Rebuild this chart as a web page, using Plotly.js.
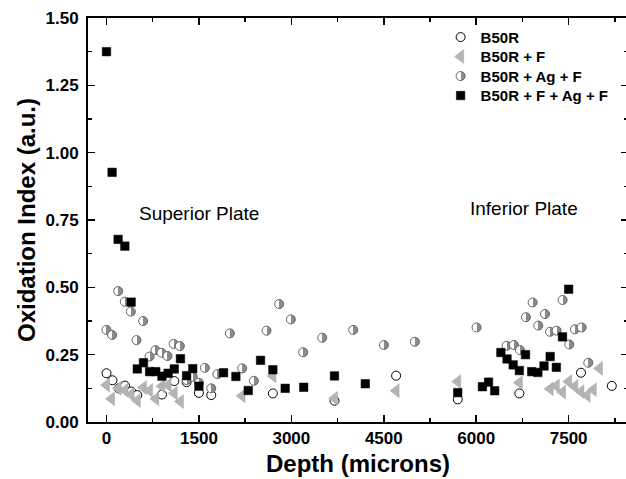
<!DOCTYPE html>
<html>
<head>
<meta charset="utf-8">
<script src="https://cdn.plot.ly/plotly-3.0.1.min.js"></script>
<style>
html,body{margin:0;padding:0;overflow:hidden;background:#fff;}
#chart{width:628px;height:479px;}
</style>
</head>
<body>
<div id="chart"></div>
<script>
// B50R (open circles)
const b50rX = [0, 97, 200, 300, 400, 500, 900, 1100, 1300, 1500, 1700, 2700, 3700, 4700, 5700, 6700, 7700, 8200];
const b50rY = [0.181, 0.155, 0.125, 0.135, 0.113, 0.100, 0.102, 0.152, 0.148, 0.108, 0.100, 0.106, 0.079, 0.172, 0.084, 0.106, 0.183, 0.134];

// B50R + F (grey left triangles)
const b50rFX = [0, 81, 190, 300, 400, 500, 600, 700, 800, 900, 1000, 1100, 1200, 2200, 2700, 3700, 4700, 5700, 6700, 7200, 7300, 7400, 7500, 7600, 7700, 7800, 7900, 8000];
const b50rFY = [0.137, 0.086, 0.125, 0.118, 0.102, 0.080, 0.128, 0.117, 0.086, 0.133, 0.137, 0.107, 0.076, 0.097, 0.171, 0.088, 0.116, 0.150, 0.146, 0.123, 0.134, 0.111, 0.150, 0.132, 0.113, 0.099, 0.120, 0.199];

// B50R + Ag + F (half filled circles)
const b50rAgFX = [0, 92, 190, 297, 395, 487, 595, 700, 795, 893, 990, 1090, 1190, 1300, 1400, 1500, 1596, 1700, 1800, 2002, 2202, 2392, 2597, 2803, 2992, 3192, 3501, 4004, 4502, 5005, 6006, 6493, 6612, 6710, 6807, 6915, 7007, 7116, 7197, 7305, 7402, 7510, 7602, 7711, 7819];
const b50rAgFY = [0.342, 0.323, 0.486, 0.447, 0.410, 0.304, 0.375, 0.243, 0.267, 0.257, 0.245, 0.290, 0.282, 0.156, 0.168, 0.146, 0.201, 0.125, 0.178, 0.329, 0.199, 0.153, 0.339, 0.438, 0.381, 0.259, 0.313, 0.342, 0.286, 0.298, 0.351, 0.283, 0.286, 0.267, 0.389, 0.444, 0.358, 0.401, 0.335, 0.339, 0.453, 0.288, 0.344, 0.351, 0.220];

// B50R + F + Ag + F (black squares)
const b50rFAgFX = [0, 91, 189, 298, 400, 500, 600, 700, 800, 900, 1000, 1100, 1200, 1300, 1400, 1500, 1900, 2100, 2300, 2500, 2700, 2900, 3200, 3700, 4200, 5700, 6100, 6200, 6300, 6400, 6500, 6600, 6700, 6800, 6900, 7000, 7100, 7200, 7300, 7400, 7500];
const b50rFAgFY = [1.375, 0.927, 0.678, 0.653, 0.445, 0.197, 0.220, 0.187, 0.187, 0.170, 0.181, 0.197, 0.235, 0.172, 0.198, 0.133, 0.183, 0.169, 0.117, 0.229, 0.194, 0.125, 0.129, 0.171, 0.142, 0.109, 0.131, 0.148, 0.116, 0.258, 0.234, 0.212, 0.191, 0.250, 0.187, 0.184, 0.208, 0.243, 0.203, 0.316, 0.493];

const seriesNames = ['B50R', 'B50R + F', 'B50R + Ag + F', 'B50R + F + Ag + F'];
const xTicks = [0, 1500, 3000, 4500, 6000, 7500];
const yTicks = [0.00, 0.25, 0.50, 0.75, 1.00, 1.25, 1.50];

const FONT = 'Liberation Sans, Arial, Helvetica, sans-serif';

const data = [
  {x: b50rX, y: b50rY, name: seriesNames[0], type: 'scatter', mode: 'markers',
   marker: {symbol: 'circle', size: 9, color: '#ffffff', line: {color: '#000000', width: 1}}},
  {x: b50rFX, y: b50rFY, name: seriesNames[1], type: 'scatter', mode: 'markers',
   marker: {symbol: 'triangle-left', size: 12, color: '#b4b4b4', line: {color: '#a8a8a8', width: 0.5}}},
  {x: b50rAgFX, y: b50rAgFY, name: seriesNames[2], type: 'scatter', mode: 'markers',
   marker: {symbol: 'circle', size: 9, color: '#ffffff', gradient: {type: 'horizontal', color: '#8a8a8a'}, line: {color: '#666666', width: 1}}},
  {x: b50rFAgFX, y: b50rFAgFY, name: seriesNames[3], type: 'scatter', mode: 'markers',
   marker: {symbol: 'square', size: 8.5, color: '#000000', line: {color: '#000000', width: 0.5}}}
];

const axisCommon = {
  showline: true, linecolor: '#000', linewidth: 2, mirror: 'ticks',
  ticks: 'inside', ticklen: 7, tickwidth: 1.5, tickcolor: '#000',
  showgrid: false, zeroline: false,
  tickfont: {family: FONT, size: 17, color: '#000', weight: 'bold'}
};

const layout = {
  width: 628, height: 479,
  margin: {l: 88, r: 0, t: 18, b: 57},
  paper_bgcolor: '#fff', plot_bgcolor: '#fff',
  showlegend: true,
  legend: {x: 0.653, y: 0.993, xanchor: 'left', yanchor: 'top', bgcolor: 'rgba(0,0,0,0)',
           font: {family: FONT, size: 15, color: '#000', weight: 'bold'}, tracegroupgap: 0},
  xaxis: Object.assign({}, axisCommon, {
    range: [-300, 8463], tickvals: xTicks, ticktext: xTicks.map(String),
    minor: {dtick: 750, tick0: 0, ticks: 'inside', ticklen: 4, tickwidth: 1.5, tickcolor: '#000'},
    title: {text: 'Depth (microns)', font: {family: FONT, size: 24, color: '#000', weight: 'bold'}, standoff: 8}
  }),
  yaxis: Object.assign({}, axisCommon, {
    range: [0, 1.5], tickvals: yTicks, ticktext: yTicks.map(v => v.toFixed(2)),
    ticklabelstandoff: 4,
    minor: {dtick: 0.125, tick0: 0, ticks: 'inside', ticklen: 4, tickwidth: 1.5, tickcolor: '#000'},
    title: {text: 'Oxidation Index (a.u.)', font: {family: FONT, size: 24, color: '#000', weight: 'bold'}, standoff: 3}
  }),
  annotations: [
    {text: 'Superior Plate', x: 1506, y: 0.776, xref: 'x', yref: 'y', showarrow: false,
     font: {family: FONT, size: 19, color: '#000'}},
    {text: 'Inferior Plate', x: 6775, y: 0.791, xref: 'x', yref: 'y', showarrow: false,
     font: {family: FONT, size: 19, color: '#000'}}
  ]
};

function finishStyling(gd) {
  // sharp half-filled circles
  gd.querySelectorAll('linearGradient').forEach(function(g){
    var stops = g.querySelectorAll('stop');
    if (stops.length === 2) {
      stops[0].setAttribute('offset', '50%');
      stops[1].setAttribute('offset', '50%');
    }
  });
  // tighter legend row spacing as in the original
  var items = gd.querySelectorAll('.legend .traces');
  if (items.length) {
    var re = /translate\(\s*([-\d.]+)[ ,]+([-\d.]+)\s*\)/;
    var m0 = re.exec(items[0].getAttribute('transform') || '');
    if (m0) {
      var x0 = parseFloat(m0[1]), y0 = parseFloat(m0[2]);
      items.forEach(function(it, i){
        it.setAttribute('transform', 'translate(' + x0 + ',' + (y0 + i * 19.5) + ')');
      });
    }
  }
}

Plotly.newPlot('chart', data, layout, {staticPlot: true, displayModeBar: false}).then(finishStyling);
</script>
</body>
</html>
